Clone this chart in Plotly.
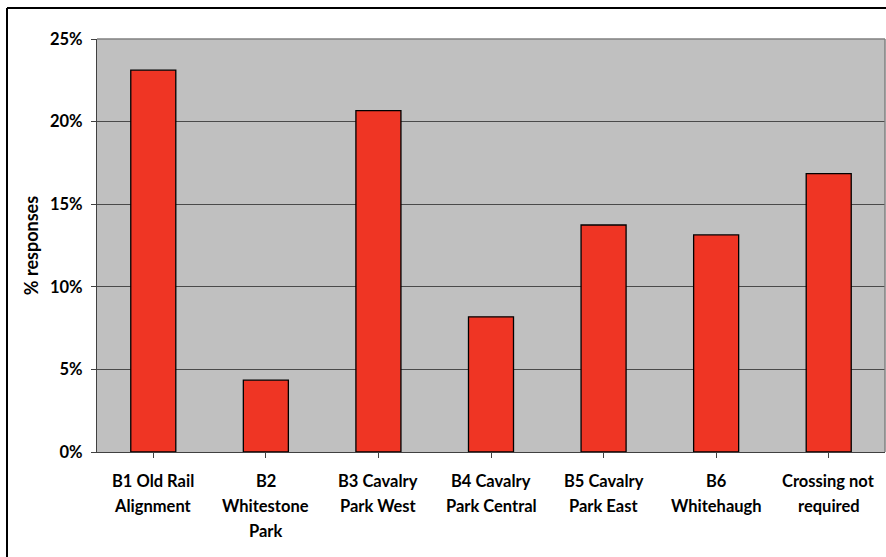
import plotly.graph_objects as go

categories = ["B1 Old Rail\nAlignment", "B2\nWhitestone\nPark", "B3 Cavalry\nPark West",
              "B4 Cavalry\nPark Central", "B5 Cavalry\nPark East", "B6\nWhitehaugh",
              "Crossing not\nrequired"]
values = [0.2311, 0.0435, 0.2066, 0.0818, 0.1374, 0.1314, 0.1685]
y_ticks = [0, 0.05, 0.10, 0.15, 0.20, 0.25]
y_ticktext = ["0%", "5%", "10%", "15%", "20%", "25%"]

FONT = "Lato, Carlito, 'Open Sans', sans-serif"
W, H = 886, 557
L, R, T, B = 97, 1, 39, 105
pw, ph = W - L - R, H - T - B

fig = go.Figure()
fig.add_trace(go.Bar(
    x=list(range(len(categories))), y=values,
    marker=dict(color="#EF3524", line=dict(color="#000000", width=1.3)),
    width=0.4,
))

def px_x(p):
    return (p - L) / pw

def px_y(p):
    return (H - B - p) / ph

shapes = [
    dict(type="line", xref="paper", yref="paper", x0=px_x(7), x1=px_x(890), y0=px_y(8), y1=px_y(8),
         line=dict(color="#000000", width=2)),
    dict(type="line", xref="paper", yref="paper", x0=px_x(7), x1=px_x(7), y0=px_y(8), y1=px_y(565),
         line=dict(color="#000000", width=2)),
    dict(type="line", xref="paper", yref="paper", x0=0, x1=1, y0=1, y1=1,
         line=dict(color="#808080", width=1.5)),
    dict(type="line", xref="paper", yref="paper", x0=1, x1=1, y0=0, y1=1,
         line=dict(color="#808080", width=1.5)),
]

annotations = []
for i, lab in enumerate(categories):
    for j, line in enumerate(lab.split("\n")):
        annotations.append(dict(
            x=i, y=0, xref="x", yref="paper", text=line, showarrow=False,
            xanchor="center", yanchor="middle", yshift=-(29 + 25 * j),
            font=dict(family=FONT, size=16.5, color="#000000", weight="bold"),
        ))

fig.update_layout(
    width=W, height=H,
    margin=dict(l=L, r=R, t=T, b=B, autoexpand=False),
    paper_bgcolor="#FFFFFF", plot_bgcolor="#C0C0C0",
    showlegend=False, bargap=0.6,
    font=dict(family=FONT, size=16, color="#000000"),
    shapes=shapes, annotations=annotations,
    xaxis=dict(
        range=[-0.5, len(categories) - 0.5],
        tickmode="array", tickvals=list(range(len(categories))),
        ticktext=[""] * len(categories),
        tickson="boundaries", ticks="outside", ticklen=5, tickcolor="#404040",
        showgrid=False, zeroline=False,
        showline=True, linecolor="#404040", linewidth=1.2,
    ),
    yaxis=dict(
        range=[0, 0.25], tickmode="array", tickvals=y_ticks, ticktext=y_ticktext,
        ticks="outside", ticklen=5, tickcolor="#404040", ticklabelstandoff=5,
        tickfont=dict(family=FONT, size=16.5, color="#000000", weight="bold"),
        showgrid=True, gridcolor="#4a4a4a", gridwidth=1,
        zeroline=False, showline=True, linecolor="#404040", linewidth=1.2,
        title=dict(text="% responses",
                   font=dict(family=FONT, size=18, color="#000000", weight="bold"),
                   standoff=6),
    ),
)

fig.write_html("out.html")
